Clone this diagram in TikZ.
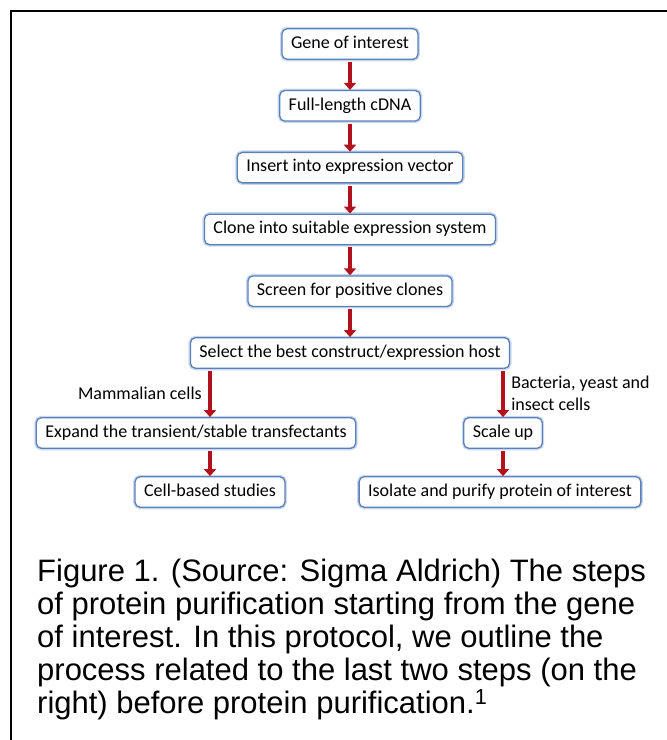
\documentclass[tikz,border=0pt]{standalone}
\usepackage{fontspec}
\setmainfont{Carlito}
\newfontfamily\capfont{Liberation Sans}
\usetikzlibrary{positioning,arrows.meta}
\definecolor{boxline}{HTML}{5A80B8}
\definecolor{boxglow}{HTML}{C9D8EE}
\definecolor{arrowred}{HTML}{B3121C}

\begin{document}
\begin{tikzpicture}[x=1pt,y=-1pt,
box/.style={draw=boxline,line width=1.3pt,rounded corners=5pt,fill=white,
 preaction={draw=boxglow,line width=4pt},inner xsep=9pt,inner ysep=7pt,
 text height=12.5pt,text depth=4pt,font=\fontsize{18}{20}\selectfont},
flow/.style={arrowred,line width=4.5pt,-{Triangle[length=7pt,width=12pt]},
 shorten <=2pt},
lbl/.style={text=black,font=\fontsize{18}{22}\selectfont,align=left,inner sep=0pt}]
 \useasboundingbox (0,0) rectangle (667,740);
 \draw[line width=1.6pt] (11,740) -- (11,11) -- (667,11);
 % main column
 \node[box] (gene) at (350,44) {Gene of interest};
 \node[box,below=30pt of gene] (cdna) {Full-length cDNA};
 \node[box,below=30pt of cdna] (insert) {Insert into expression vector};
 \node[box,below=30pt of insert] (clone) {Clone into suitable expression system};
 \node[box,below=30pt of clone] (screen) {Screen for positive clones};
 \node[box,below=30pt of screen] (select) {Select the best construct/expression host};
 \foreach \A/\B in {gene/cdna,cdna/insert,insert/clone,clone/screen,screen/select}
 \draw[flow] (\A) -- (\B);
 % two branches
 \node[box] (expand) at (196,433) {Expand the transient/stable transfectants};
 \node[box] (scale) at (503,433) {Scale up};
 \node[box] (cell) at (210,492) {Cell-based studies};
 \node[box] (isolate) at (500,492) {Isolate and purify protein of interest};
 \draw[flow] (select.south -| cell.north) -- (expand.north -| cell.north)
 node[midway,left=6pt,lbl] (mamlbl) {Mammalian cells};
 \draw[flow] (select.south -| scale.north) -- (scale.north)
 node[midway,right=6pt,lbl] (hostlbl) {Bacteria, yeast and\\insect cells};
 \draw[flow] (expand.south -| cell.north) -- (cell.north);
 \draw[flow] (scale.south) -- (scale.south |- isolate.north);
 % caption
 \node[anchor=north west,align=left,inner sep=0pt,
 font=\capfont\fontsize{31}{33}\selectfont] (caption) at (37,559)
 {Figure 1. (Source: Sigma Aldrich) The steps\\
 of protein purification starting from the gene\\
 of interest. In this protocol, we outline the\\
 process related to the last two steps (on the\\
 right) before protein purification.\textsuperscript{1}};
\end{tikzpicture}
\end{document}
